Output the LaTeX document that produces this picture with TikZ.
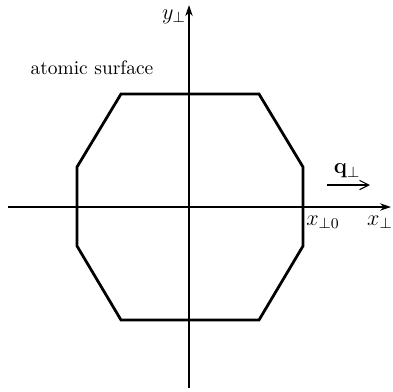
\documentclass[tikz,border=0pt]{standalone}
\usetikzlibrary{arrows.meta}
\begin{document}
\begin{tikzpicture}[x=0.54pt,y=-0.54pt,
  axis/.style={line width=0.9pt,-{Stealth[length=6pt,width=4pt]}},
  surf/.style={line width=1.5pt,line join=miter},
  lab/.style={inner sep=0pt,font=\large}]
\useasboundingbox (0,0) rectangle (393,391);
% axes
\coordinate (xl) at (8,207);
\coordinate (xr) at (391,207);
\coordinate (yb) at (189,388);
\coordinate (yt) at (189,5);
\draw[axis] (xl) -- (xr);
\draw[axis] (yb) -- (yt);
% octagon
\coordinate (p1) at (121,94);
\coordinate (p2) at (259,94);
\coordinate (p3) at (303,167);
\coordinate (p4) at (303,246);
\coordinate (p5) at (259,320);
\coordinate (p6) at (121,320);
\coordinate (p7) at (77,246);
\coordinate (p8) at (77,167);
\draw[surf] (p1) -- (p2) -- (p3) -- (p4) -- (p5) -- (p6) -- (p7) -- (p8) -- cycle;
% labels
\node[lab] (ylab) at (174,17) {$y_\perp$};
\node[inner sep=0pt,font=\fontsize{10.5}{12}\selectfont] (atom) at (92,68) {atomic surface};
\node[lab] (qlab) at (347,171) {$\mathbf{q}_\perp$};
\coordinate (qa) at (327,185);
\coordinate (qb) at (370,185);
\draw[line width=0.6pt,-{Straight Barb[length=5pt,width=5pt]}] (qa) -- (qb);
\node[lab] (x0lab) at (323,222) {$x_{\perp 0}$};
\node[lab] (xlab) at (380,222) {$x_\perp$};
\end{tikzpicture}
\end{document}
